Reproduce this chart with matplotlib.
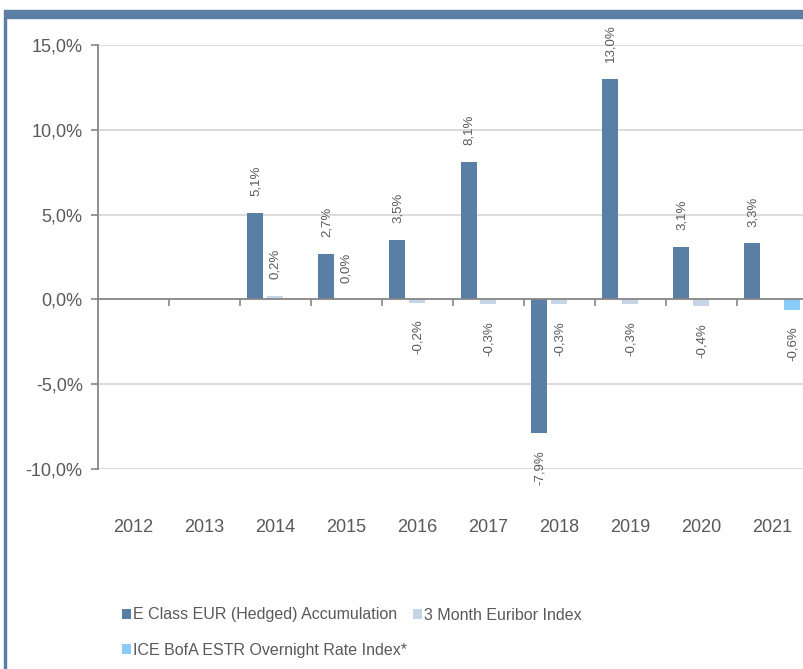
import matplotlib
matplotlib.use("Agg")
import matplotlib.pyplot as plt
from matplotlib.patches import Patch, Rectangle
import numpy as np

plt.rcParams['font.family'] = ['Liberation Sans', 'DejaVu Sans']

years = ["2012", "2013", "2014", "2015", "2016", "2017", "2018", "2019", "2020", "2021"]
fund = [None, None, 5.1, 2.7, 3.5, 8.1, -7.9, 13.0, 3.1, 3.3]
euribor = [None, None, 0.2, 0.0, -0.2, -0.3, -0.3, -0.3, -0.4, None]
estr = [None, None, None, None, None, None, None, None, None, -0.6]

series_names = ["E Class EUR (Hedged) Accumulation", "3 Month Euribor Index",
                "ICE BofA ESTR Overnight Rate Index*"]
colors = ["#5A7FA4", "#C6D4E7", "#8BCBFA"]
yticks = [-10, -5, 0, 5, 10, 15]

grey_txt = "#595959"
axis_grey = "#868686"
grid_grey = "#D9D9D9"
frame_blue = "#5B7FA3"

W, H = 804, 669
fig = plt.figure(figsize=(W / 100, H / 100), dpi=100)

# frame decorations
fig.patches.append(Rectangle((4 / W, 1 - 18 / H), 1, 8 / H, transform=fig.transFigure,
                             color=frame_blue, zorder=0))
fig.patches.append(Rectangle((4 / W, 0), 2 / W, 1 - 17 / H, transform=fig.transFigure,
                             color=frame_blue, zorder=0))

ax = fig.add_axes([98 / W, 1 - 469 / H, (W - 98) / W, (469 - 45) / H])
ax.set_ylim(-10, 15)
ax.set_xlim(-0.5, -0.5 + (W - 98) / 71)

bw = 16 / 71
offs = [-20 / 71, 0, 20 / 71]
x = np.arange(len(years))

for s, (vals, col, off) in enumerate(zip([fund, euribor, estr], colors, offs)):
    xs = [xi + off for xi, v in zip(x, vals) if v is not None]
    vs = [v for v in vals if v is not None]
    ax.bar(xs, vs, width=bw, color=col, zorder=3, label=series_names[s])
    for xi, v in zip(xs, vs):
        txt = f"{v:.1f}%".replace(".", ",")
        if v >= 0:
            ax.annotate(txt, (xi, v), xytext=(0, 12), textcoords="offset points",
                        rotation=90, ha="center", va="bottom", fontsize=9.5, color=grey_txt)
        else:
            ax.annotate(txt, (xi, v), xytext=(0, -12), textcoords="offset points",
                        rotation=90, ha="center", va="top", fontsize=9.5, color=grey_txt)

# gridlines
for yv in yticks:
    if yv != 0:
        ax.axhline(yv, color=grid_grey, lw=1.3, zorder=1)

ax.set_yticks(yticks)
ax.set_yticklabels([f"{v:.1f}%".replace(".", ",") for v in yticks])
ax.tick_params(axis="y", length=5, width=1.2, color=axis_grey, labelsize=13,
               labelcolor=grey_txt, pad=6)

for sp in ["top", "right"]:
    ax.spines[sp].set_visible(False)
ax.spines["left"].set_color(axis_grey)
ax.spines["left"].set_linewidth(1.3)
ax.spines["bottom"].set_position(("data", 0))
ax.spines["bottom"].set_color(axis_grey)
ax.spines["bottom"].set_linewidth(1.3)
ax.spines["bottom"].set_zorder(4)

bounds = np.arange(0.5, len(years) - 0.5, 1.0)
ax.set_xticks(bounds)
ax.set_xticklabels([""] * len(bounds))
ax.tick_params(axis="x", length=5, width=1.2, color=axis_grey, direction="out")

sec = ax.secondary_xaxis("bottom")
sec.set_xticks(x)
sec.set_xticklabels(years)
sec.tick_params(length=0, pad=36, labelsize=13, labelcolor=grey_txt)
sec.spines["bottom"].set_visible(False)

handles = [Patch(facecolor=c, edgecolor="none") for c in colors]
leg_kw = dict(frameon=False, fontsize=11.5, labelcolor=grey_txt, handlelength=0.56,
              handleheight=0.56, handletextpad=0.15, borderpad=0, borderaxespad=0,
              loc="center left")
leg1 = fig.legend(handles[:2], series_names[:2], ncol=2, columnspacing=0.95,
                  bbox_to_anchor=(122 / W, 1 - 615 / H), **leg_kw)
leg2 = fig.legend(handles[2:], series_names[2:], ncol=1,
                  bbox_to_anchor=(122 / W, 1 - 650 / H), **leg_kw)

fig.savefig("out.png", dpi=100)
